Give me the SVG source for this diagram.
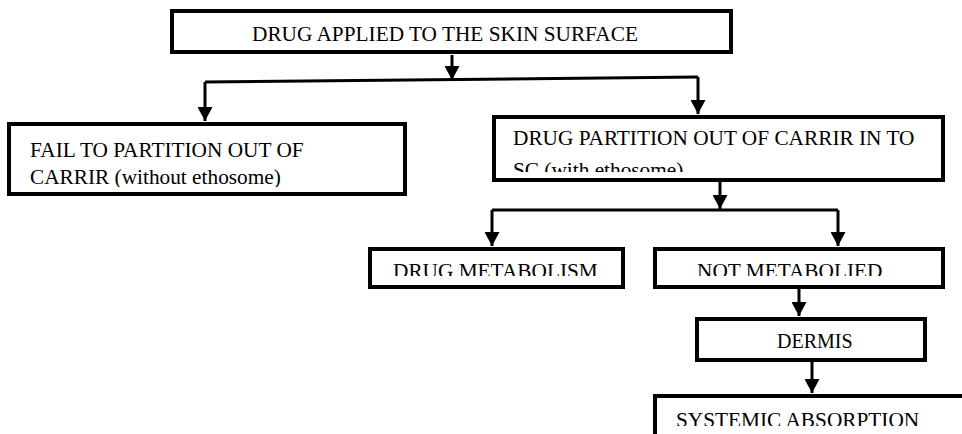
<svg xmlns="http://www.w3.org/2000/svg" width="962" height="434" viewBox="0 0 962 434">
<style>
.box{fill:#fff;stroke:#000;stroke-width:4}
.t{font-size:21.3px;fill:#000}
.c{fill:none;stroke:#000;stroke-width:3}
</style>
<defs>
<marker id="ah" markerUnits="userSpaceOnUse" markerWidth="15" markerHeight="15" refX="14" refY="7.5" orient="auto" viewBox="0 0 15 15">
<path d="M0,0 L14,7.5 L0,15 z" fill="#000"/>
</marker>
<clipPath id="clipR"><rect x="494" y="117" width="449" height="55"/></clipPath>
<clipPath id="clipL"><rect x="9" y="124" width="396" height="63"/></clipPath>
<clipPath id="clipDM"><rect x="370" y="249" width="253" height="27"/></clipPath>
<clipPath id="clipNM"><rect x="655" y="249" width="288" height="27"/></clipPath>
<clipPath id="clipS"><rect x="655" y="396" width="310" height="30"/></clipPath>
</defs>
<g id="connectors">
<path class="c" d="M452,55 L452,80" marker-end="url(#ah)"/>
<path class="c" d="M205,82 L698,77"/>
<path class="c" d="M205,82 L205,121" marker-end="url(#ah)"/>
<path class="c" d="M698,77 L698,114" marker-end="url(#ah)"/>
<path class="c" d="M720,182 L720,209" marker-end="url(#ah)"/>
<path class="c" d="M492,210 L838,210"/>
<path class="c" d="M492,210 L492,246" marker-end="url(#ah)"/>
<path class="c" d="M838,210 L838,246" marker-end="url(#ah)"/>
<path class="c" d="M799,289 L799,316" marker-end="url(#ah)"/>
<path class="c" d="M812,362 L812,393" marker-end="url(#ah)"/>
</g>
<g font-family="'Liberation Serif', 'DejaVu Serif', serif">
<g id="node-top">
<rect class="box" x="172" y="11" width="559" height="41"/>
<text class="t" x="252" y="41">DRUG APPLIED TO THE SKIN SURFACE</text>
</g>
<g id="node-fail">
<rect class="box" x="9" y="124" width="396" height="70"/>
<g clip-path="url(#clipL)">
<text class="t" x="30" y="157">FAIL TO PARTITION OUT OF</text>
<text class="t" x="30" y="184">CARRIR (without ethosome)</text>
</g>
</g>
<g id="node-partition">
<rect class="box" x="494" y="117" width="449" height="63"/>
<g clip-path="url(#clipR)">
<text class="t" x="513" y="145">DRUG PARTITION OUT OF CARRIR IN TO</text>
<text class="t" x="513" y="177">SC (with ethosome)</text>
</g>
</g>
<g id="node-metabolism">
<rect class="box" x="370" y="249" width="253" height="38"/>
<text class="t" x="393" y="278" clip-path="url(#clipDM)">DRUG METABOLISM</text>
</g>
<g id="node-notmetabolied">
<rect class="box" x="655" y="249" width="288" height="38"/>
<text class="t" x="697" y="278" clip-path="url(#clipNM)">NOT METABOLIED</text>
</g>
<g id="node-dermis">
<rect class="box" x="697" y="319" width="228" height="41"/>
<text class="t" x="777" y="348" style="font-size:20px">DERMIS</text>
</g>
<g id="node-systemic">
<rect class="box" x="655" y="396" width="320" height="60"/>
<text class="t" x="676" y="427" clip-path="url(#clipS)">SYSTEMIC ABSORPTION</text>
</g>
</g>
</svg>
